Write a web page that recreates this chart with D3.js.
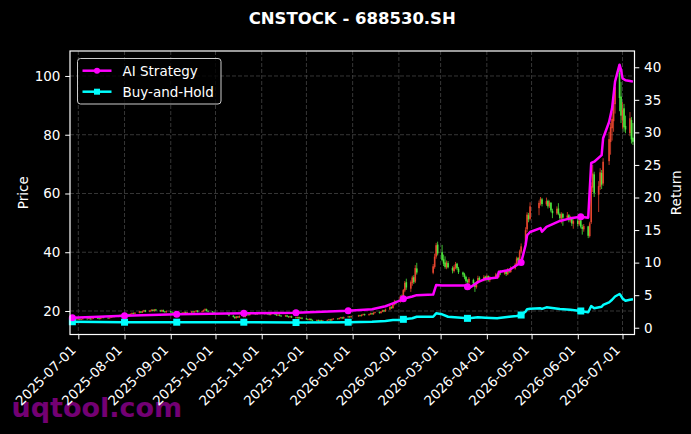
<!DOCTYPE html>
<html>
<head>
<meta charset="utf-8">
<script src="https://cdn.jsdelivr.net/npm/d3@7"></script>
<style>
body { margin: 0; background: #000; }
text { font-family: "DejaVu Sans", sans-serif; }
</style>
</head>
<body>
<div id="chart"></div>
<script>
// trading calendar
var firstDay = "2025-06-27", lastDay = "2026-07-08";
var holidays = ["2025-10-01", "2025-10-02", "2025-10-03", "2025-10-06", "2025-10-07", "2025-10-08",
	"2026-01-01", "2026-01-02", "2026-02-16", "2026-02-17", "2026-02-18", "2026-02-19", "2026-02-20",
	"2026-02-23", "2026-04-06", "2026-05-01", "2026-05-04", "2026-05-05", "2026-06-19"];

// daily candles, one row per month
var opens = [
	17.3, 17.4,
	17.2, 17.3, 17.1, 17.2, 17.4, 17.3, 17.5, 17.2, 17.4, 17.6, 17.5, 17.3, 17.6, 17.8, 17.7, 17.5, 17.7, 17.9, 18.2, 18.0, 18.3, 18.6, 18.4,
	18.7, 18.9, 18.6, 19.0, 19.3, 19.1, 19.4, 19.8, 19.5, 19.9, 20.2, 19.8, 20.1, 20.4, 20.0, 20.5, 20.2, 19.9, 20.3, 19.8, 19.6,
	19.9, 19.6, 19.4, 19.2, 19.5, 19.3, 19.1, 19.4, 19.6, 19.3, 19.5, 19.8, 19.6, 19.9, 20.1, 19.7, 19.9, 20.3, 20.6, 20.0, 19.8, 19.6,
	19.3, 18.9, 18.4, 18.0, 17.6, 18.1, 17.8, 18.3, 18.0, 18.5, 18.8, 18.6, 19.0, 19.2, 18.9, 19.3, 19.5,
	19.2, 19.0, 19.3, 18.9, 18.7, 19.0, 18.8, 18.5, 18.7, 18.4, 18.2, 18.5, 18.1, 17.9, 18.2, 17.8, 17.6, 17.9, 17.5, 17.7,
	17.4, 17.2, 17.0, 17.3, 16.9, 16.7, 16.9, 16.6, 16.8, 16.5, 16.7, 16.9, 17.1, 16.8, 17.2, 17.4, 17.3, 17.6, 17.8, 17.5, 17.9, 18.1, 17.9,
	18.2, 18.5, 18.3, 18.7, 18.9, 18.6, 18.9, 19.2, 18.9, 19.4, 19.6, 19.3, 19.8, 20.2, 19.9, 20.5, 21.3, 21.0, 22.2, 23.1,
	23.2, 25.0, 24.2, 27.0, 29.8, 27.6, 29.5, 31.5, 30.0, 34.5, 33.0, 35.0, 38.5, 42.6,
	40.0, 37.6, 36.5, 34.8, 36.3, 34.6, 33.6, 34.8, 36.1, 34.4, 33.1, 32.5, 31.6, 30.3, 29.7, 30.6, 29.3, 28.1, 29.7, 31.3, 30.4, 31.7,
	30.8, 31.9, 30.5, 31.5, 32.5, 31.6, 33.3, 32.7, 33.6, 32.5, 34.2, 33.3, 34.5, 35.9, 38.0, 37.1, 40.2, 42.5, 47.8, 52.6, 51.4,
	55.0, 56.6, 58.0, 56.3, 57.5, 55.7, 56.8, 54.1, 53.2, 54.9, 53.0, 51.5, 53.0, 51.7, 52.6, 50.8, 51.6, 49.7,
	50.7, 49.5, 50.9, 48.6, 47.8, 48.8, 45.5, 50.2, 62.0, 66.5, 59.6, 62.3, 67.0, 63.4, 71.0, 77.5, 82.2, 84.6, 90.4, 101.0, 93.0,
	85.0, 89.0, 83.0, 80.5, 85.0, 79.0];
var highs = [
	17.6, 17.5,
	17.5, 17.4, 17.3, 17.6, 17.5, 17.7, 17.6, 17.5, 17.8, 17.7, 17.6, 17.8, 18.0, 17.9, 17.8, 17.9, 18.1, 18.4, 18.3, 18.5, 18.8, 18.7, 18.9,
	19.1, 19.1, 19.2, 19.5, 19.5, 19.6, 20.0, 20.0, 20.1, 20.4, 20.4, 20.3, 20.6, 20.6, 20.7, 20.7, 20.4, 20.5, 20.5, 20.0, 20.1,
	20.1, 19.8, 19.6, 19.7, 19.7, 19.5, 19.6, 19.8, 19.8, 19.7, 20.0, 20.0, 20.1, 20.3, 20.3, 20.1, 20.5, 20.9, 20.8, 20.2, 20.0, 19.8,
	19.5, 19.1, 18.6, 18.2, 18.3, 18.3, 18.5, 18.5, 18.7, 19.0, 19.0, 19.2, 19.4, 19.4, 19.5, 19.7, 19.7,
	19.4, 19.5, 19.4, 19.1, 19.2, 19.2, 19.0, 18.9, 18.9, 18.6, 18.7, 18.7, 18.3, 18.4, 18.4, 18.0, 18.1, 18.1, 17.9, 17.9,
	17.6, 17.4, 17.5, 17.5, 17.1, 17.1, 17.1, 17.0, 17.0, 16.9, 17.1, 17.3, 17.3, 17.4, 17.6, 17.6, 17.8, 18.0, 18.0, 18.1, 18.3, 18.3, 18.4,
	18.7, 18.7, 18.9, 19.1, 19.1, 19.1, 19.4, 19.4, 19.6, 19.8, 19.8, 20.0, 20.4, 20.4, 20.8, 21.8, 21.6, 22.6, 23.8, 23.6,
	25.4, 25.6, 27.5, 30.2, 31.0, 30.4, 32.0, 32.2, 35.6, 36.4, 36.0, 39.5, 43.2, 43.6,
	42.5, 39.2, 38.6, 37.2, 37.0, 35.2, 35.6, 36.7, 36.4, 35.0, 33.4, 33.0, 32.0, 30.8, 31.5, 31.0, 29.8, 30.2, 32.0, 31.8, 32.2, 32.0,
	32.4, 32.1, 31.9, 33.0, 32.8, 33.8, 33.9, 34.0, 33.9, 34.6, 34.5, 35.2, 36.4, 38.5, 38.4, 40.9, 43.0, 48.5, 53.6, 53.4, 57.0,
	57.6, 58.8, 58.5, 58.6, 57.9, 57.6, 57.1, 54.8, 55.6, 56.7, 53.5, 53.6, 53.4, 53.7, 53.0, 52.4, 52.0, 51.2,
	51.6, 52.6, 51.3, 49.4, 49.6, 49.0, 50.4, 63.8, 69.7, 67.4, 64.2, 68.6, 68.0, 72.0, 81.0, 84.0, 87.7, 92.0, 97.0, 103.7, 98.0,
	91.0, 90.5, 86.5, 87.7, 86.0, 84.0];
var lows = [
	17.1, 17.0,
	17.0, 16.9, 16.9, 17.1, 17.1, 17.2, 17.0, 17.1, 17.3, 17.3, 17.1, 17.2, 17.5, 17.5, 17.3, 17.4, 17.6, 17.8, 17.8, 17.9, 18.1, 18.2, 18.3,
	18.5, 18.4, 18.4, 18.8, 18.9, 18.9, 19.2, 19.3, 19.3, 19.7, 19.6, 19.6, 19.9, 19.8, 19.8, 20.0, 19.7, 19.7, 19.6, 19.4, 19.4,
	19.4, 19.2, 19.0, 19.0, 19.1, 18.9, 18.9, 19.2, 19.1, 19.1, 19.3, 19.4, 19.4, 19.7, 19.5, 19.5, 19.7, 20.1, 19.8, 19.6, 19.4, 19.2,
	18.7, 18.2, 17.8, 17.3, 17.4, 17.6, 17.6, 17.8, 17.8, 18.3, 18.4, 18.4, 18.8, 18.7, 18.7, 19.1, 19.0,
	18.8, 18.8, 18.7, 18.5, 18.5, 18.6, 18.3, 18.3, 18.2, 18.0, 18.0, 17.9, 17.7, 17.7, 17.6, 17.4, 17.4, 17.3, 17.3, 17.2,
	17.0, 16.8, 16.8, 16.7, 16.5, 16.5, 16.4, 16.4, 16.3, 16.3, 16.5, 16.7, 16.6, 16.6, 17.0, 17.1, 17.1, 17.4, 17.3, 17.3, 17.7, 17.7, 17.7,
	18.0, 18.1, 18.1, 18.5, 18.4, 18.4, 18.7, 18.7, 18.7, 19.2, 19.1, 19.1, 19.6, 19.6, 19.7, 20.3, 20.7, 20.8, 21.9, 22.2,
	22.8, 23.6, 24.0, 26.4, 27.2, 26.5, 28.6, 29.2, 29.5, 32.4, 32.5, 34.4, 37.8, 38.9,
	36.9, 35.3, 34.4, 34.2, 34.5, 32.8, 33.1, 34.2, 33.9, 32.6, 31.6, 30.8, 29.6, 28.8, 29.2, 28.9, 26.5, 27.6, 29.3, 29.9, 30.1, 30.3,
	30.4, 30.0, 29.8, 31.0, 31.1, 31.3, 32.2, 32.3, 31.9, 32.2, 32.9, 33.0, 34.1, 35.4, 36.5, 36.8, 39.5, 42.0, 46.9, 50.2, 50.8,
	52.6, 55.9, 55.6, 55.8, 54.9, 55.1, 53.6, 51.6, 52.7, 52.6, 50.8, 49.8, 49.0, 51.2, 50.2, 50.1, 48.9, 48.0,
	48.8, 49.0, 48.1, 46.0, 47.0, 44.8, 45.0, 49.6, 60.5, 58.8, 53.7, 61.2, 61.5, 62.6, 69.7, 73.2, 78.0, 81.0, 87.2, 88.0, 84.0,
	82.0, 81.0, 80.5, 79.5, 77.0, 76.5];
var closes = [
	17.4, 17.2,
	17.3, 17.1, 17.2, 17.4, 17.3, 17.5, 17.2, 17.4, 17.6, 17.5, 17.3, 17.6, 17.8, 17.7, 17.5, 17.7, 17.9, 18.2, 18.0, 18.3, 18.6, 18.4, 18.7,
	18.9, 18.6, 19.0, 19.3, 19.1, 19.4, 19.8, 19.5, 19.9, 20.2, 19.8, 20.1, 20.4, 20.0, 20.5, 20.2, 19.9, 20.3, 19.8, 19.6, 19.9,
	19.6, 19.4, 19.2, 19.5, 19.3, 19.1, 19.4, 19.6, 19.3, 19.5, 19.8, 19.6, 19.9, 20.1, 19.7, 19.9, 20.3, 20.6, 20.0, 19.8, 19.6, 19.4,
	18.9, 18.4, 18.0, 17.6, 18.1, 17.8, 18.3, 18.0, 18.5, 18.8, 18.6, 19.0, 19.2, 18.9, 19.3, 19.5, 19.2,
	19.0, 19.3, 18.9, 18.7, 19.0, 18.8, 18.5, 18.7, 18.4, 18.2, 18.5, 18.1, 17.9, 18.2, 17.8, 17.6, 17.9, 17.5, 17.7, 17.4,
	17.2, 17.0, 17.3, 16.9, 16.7, 16.9, 16.6, 16.8, 16.5, 16.7, 16.9, 17.1, 16.8, 17.2, 17.4, 17.3, 17.6, 17.8, 17.5, 17.9, 18.1, 17.9, 18.2,
	18.5, 18.3, 18.7, 18.9, 18.6, 18.9, 19.2, 18.9, 19.4, 19.6, 19.3, 19.8, 20.2, 19.9, 20.5, 21.3, 21.0, 22.2, 23.1, 22.6,
	24.9, 24.1, 27.1, 29.6, 28.0, 29.8, 31.4, 29.8, 34.6, 33.1, 35.2, 38.5, 42.4, 39.6,
	37.4, 36.1, 35.0, 36.5, 34.9, 33.8, 34.9, 36.0, 34.5, 33.2, 32.4, 31.5, 30.2, 29.8, 30.9, 29.4, 28.2, 29.6, 31.2, 30.5, 31.6, 30.9,
	31.8, 30.6, 31.4, 32.4, 31.7, 33.2, 32.8, 33.5, 32.6, 34.1, 33.4, 34.6, 35.8, 37.9, 37.2, 40.3, 42.0, 47.5, 52.8, 51.2, 55.6,
	56.8, 58.2, 56.4, 57.4, 55.6, 56.9, 54.2, 53.3, 54.8, 53.1, 51.6, 52.9, 51.8, 52.5, 50.9, 51.7, 49.8, 50.6,
	49.6, 50.8, 48.7, 47.9, 48.9, 45.6, 49.8, 62.5, 66.8, 60.2, 62.5, 67.2, 63.0, 70.8, 78.5, 82.6, 85.4, 90.8, 96.2, 92.5, 86.5,
	88.6, 82.5, 81.8, 85.6, 78.4, 77.6];

// strategy curves (right axis)
var lineDates = ["2025-06-27", "2025-08-01", "2025-09-05", "2025-10-20", "2025-11-24", "2025-12-29",
	"2026-01-14", "2026-01-23", "2026-01-28", "2026-02-02", "2026-02-04", "2026-02-10", "2026-02-13",
	"2026-02-24", "2026-02-26", "2026-03-02", "2026-03-06", "2026-03-17", "2026-03-19", "2026-03-20",
	"2026-03-26", "2026-03-31", "2026-04-08", "2026-04-09", "2026-04-16", "2026-04-21", "2026-04-24",
	"2026-04-27", "2026-04-28", "2026-04-30", "2026-05-07", "2026-05-08", "2026-05-11", "2026-05-20",
	"2026-05-27", "2026-06-03", "2026-06-08", "2026-06-10", "2026-06-12", "2026-06-17", "2026-06-18",
	"2026-06-22", "2026-06-24", "2026-06-26", "2026-06-29", "2026-06-30", "2026-07-01", "2026-07-03",
	"2026-07-06", "2026-07-08"];
var aiValues = [1.54, 1.84, 2.06, 2.21, 2.30, 2.61,
	2.85, 3.30, 3.75, 4.20, 4.45, 4.80, 5.00,
	5.10, 6.56, 6.50, 6.50, 6.50, 6.30, 6.05,
	7.00, 7.50, 7.70, 8.55, 8.86, 9.60, 10.0,
	12.7, 14.2, 14.7, 15.3, 14.75, 15.5, 16.4,
	16.8, 17.05, 16.9, 25.3, 25.5, 26.5, 29.1,
	31.6, 33.7, 37.8, 40.4, 39.6, 38.3, 38.0,
	37.9, 37.8];
var bhValues = [0.92, 0.85, 0.85, 0.85, 0.80, 0.85,
	0.92, 1.05, 1.18, 1.18, 1.29, 1.45, 1.69,
	1.69, 2.21, 2.06, 1.69, 1.50, 1.44, 1.44,
	1.60, 1.55, 1.45, 1.48, 1.69, 1.80, 1.95,
	2.50, 2.83, 2.90, 2.98, 2.90, 3.13, 2.87,
	2.75, 2.57, 2.37, 3.33, 3.00, 3.23, 3.50,
	3.90, 4.30, 4.80, 5.18, 4.90, 4.50, 4.15,
	4.30, 4.36];
var markDates = ["2025-06-27", "2025-08-01", "2025-09-05", "2025-10-20", "2025-11-24", "2025-12-29",
	"2026-02-04", "2026-03-19", "2026-04-24", "2026-06-03"];

var priceTicks = [20, 40, 60, 80, 100];
var returnTicks = [0, 5, 10, 15, 20, 25, 30, 35, 40];
var monthTicks = ["2025-07-01", "2025-08-01", "2025-09-01", "2025-10-01", "2025-11-01", "2025-12-01",
	"2026-01-01", "2026-02-01", "2026-03-01", "2026-04-01", "2026-05-01", "2026-06-01", "2026-07-01"];

function style_axis(g) {
	g.select(".domain").remove();
	g.attr("font-family", "DejaVu Sans").attr("font-size", 13.5);
	g.selectAll(".tick line").attr("stroke", "#fff");
	g.selectAll(".tick text").attr("fill", "#fff");
}

function draw_chart() {

	var margin= {top: 51, right: 56.5, bottom: 99.5, left: 70};
	var width= 691- margin.left- margin.right;
	var height= 434- margin.top- margin.bottom;

	var parse= d3.utcParse("%Y-%m-%d");
	var fmt= d3.utcFormat("%Y-%m-%d");

	var days= d3.utcDay.range(parse(firstDay), d3.utcDay.offset(parse(lastDay), 1))
		.filter(function(d) {
			var w= d.getUTCDay();
			return w> 0 && w< 6 && holidays.indexOf(fmt(d))< 0;
		});

	var candles= [];
	for (var i= 0; i< Math.min(days.length, closes.length); i++) {
		candles.push({date: days[i], o: opens[i], h: highs[i], l: lows[i], c: closes[i]});
	}

	var ai= lineDates.map(function(d, i) { return {date: parse(d), v: aiValues[i]}; });
	var bh= lineDates.map(function(d, i) { return {date: parse(d), v: bhValues[i]}; });

	var x= d3.scaleUtc()
		.domain([new Date(Date.UTC(2025, 5, 25, 10)), new Date(Date.UTC(2026, 6, 9, 1))])
		.range([0, width]);
	var yPrice= d3.scaleLinear().domain([12.0, 108.5]).range([height, 0]);
	var yRet= d3.scaleLinear().domain([-1.04, 42.5]).range([height, 0]);

	var svg= d3.select("#chart")
		.append("svg")
		.attr("width", 691)
		.attr("height", 434)
		.style("background", "#000");

	// watermark sits under the tick labels
	svg.append("text")
		.attr("x", 11.5)
		.attr("y", 417)
		.attr("font-size", 27)
		.attr("font-weight", "bold")
		.attr("fill", "#800080")
		.attr("opacity", 0.9)
		.text("uqtool.com");

	svg.append("text")
		.attr("x", margin.left+ width/ 2)
		.attr("y", 23.5)
		.attr("text-anchor", "middle")
		.attr("font-size", 16.5)
		.attr("font-weight", "bold")
		.attr("fill", "#fff")
		.text("CNSTOCK - 688530.SH");

	var canvas= svg.append("g")
		.attr("transform", "translate(" + margin.left + "," + margin.top + ")");

	// grid
	var months= monthTicks.map(parse);
	canvas.append("g").selectAll("line").data(months).enter().append("line")
		.attr("x1", function(d) { return x(d); })
		.attr("x2", function(d) { return x(d); })
		.attr("y1", 0).attr("y2", height)
		.attr("stroke", "#4d4d4d").attr("stroke-width", 0.7).attr("stroke-dasharray", "4,2");
	canvas.append("g").selectAll("line").data(priceTicks).enter().append("line")
		.attr("x1", 0).attr("x2", width)
		.attr("y1", function(d) { return yPrice(d); })
		.attr("y2", function(d) { return yPrice(d); })
		.attr("stroke", "#4d4d4d").attr("stroke-width", 0.7).attr("stroke-dasharray", "4,2");

	// candles: red up, green down
	var upColor= "#ff4d33", downColor= "#55ff44";
	var candle= canvas.append("g").selectAll("g").data(candles).enter().append("g")
		.attr("opacity", 0.9);
	candle.append("line")
		.attr("x1", function(d) { return x(d.date); })
		.attr("x2", function(d) { return x(d.date); })
		.attr("y1", function(d) { return yPrice(d.h); })
		.attr("y2", function(d) { return yPrice(d.l); })
		.attr("stroke", function(d) { return d.c>= d.o ? upColor : downColor; })
		.attr("stroke-width", 0.8);
	candle.append("rect")
		.attr("x", function(d) { return x(d.date)- 0.8; })
		.attr("width", 1.6)
		.attr("y", function(d) { return yPrice(Math.max(d.o, d.c)); })
		.attr("height", function(d) { return Math.max(0.6, Math.abs(yPrice(d.o)- yPrice(d.c))); })
		.attr("fill", function(d) { return d.c>= d.o ? upColor : downColor; });

	var line= d3.line()
		.x(function(d) { return x(d.date); })
		.y(function(d) { return yRet(d.v); });

	var series= [
		{data: bh, color: "#00ffff", shape: "square"},
		{data: ai, color: "#ff00ff", shape: "circle"}
	];

	series.forEach(function(s) {
		canvas.append("path")
			.datum(s.data)
			.attr("d", line)
			.attr("fill", "none")
			.attr("stroke", s.color)
			.attr("stroke-width", 2.5)
			.attr("stroke-linejoin", "round");

		var marks= s.data.filter(function(d) { return markDates.indexOf(fmt(d.date))>= 0; });
		if (s.shape== "circle") {
			canvas.append("g").selectAll("circle").data(marks).enter().append("circle")
				.attr("cx", function(d) { return x(d.date); })
				.attr("cy", function(d) { return yRet(d.v); })
				.attr("r", 3.5)
				.attr("fill", s.color);
		} else {
			canvas.append("g").selectAll("rect").data(marks).enter().append("rect")
				.attr("x", function(d) { return x(d.date)- 3.5; })
				.attr("y", function(d) { return yRet(d.v)- 3.5; })
				.attr("width", 7).attr("height", 7)
				.attr("fill", s.color);
		}
	});

	// axes
	var xAxis= canvas.append("g")
		.attr("transform", "translate(0," + height + ")")
		.call(d3.axisBottom(x).tickValues(months).tickFormat(fmt).tickSize(4.8).tickPadding(4.8));
	style_axis(xAxis);
	xAxis.selectAll(".tick text")
		.attr("y", null)
		.attr("dy", null)
		.attr("text-anchor", "end")
		.attr("transform", "translate(-2,16.5) rotate(-45)");

	var leftAxis= canvas.append("g")
		.call(d3.axisLeft(yPrice).tickValues(priceTicks).tickSize(4.8).tickPadding(4.8));
	style_axis(leftAxis);

	var rightAxis= canvas.append("g")
		.attr("transform", "translate(" + width + ",0)")
		.call(d3.axisRight(yRet).tickValues(returnTicks).tickSize(4.8).tickPadding(4.8));
	style_axis(rightAxis);

	canvas.append("rect")
		.attr("width", width)
		.attr("height", height)
		.attr("fill", "none")
		.attr("stroke", "#fff")
		.attr("stroke-width", 1.2);

	svg.append("text")
		.attr("transform", "translate(27.5," + (margin.top+ height/ 2) + ") rotate(-90)")
		.attr("text-anchor", "middle")
		.attr("font-size", 13.5)
		.attr("fill", "#fff")
		.text("Price");

	svg.append("text")
		.attr("transform", "translate(680.5," + (margin.top+ height/ 2) + ") rotate(-90)")
		.attr("text-anchor", "middle")
		.attr("font-size", 13.5)
		.attr("fill", "#fff")
		.text("Return");

	// legend
	var legend= svg.append("g").attr("transform", "translate(77.5,58.5)");
	legend.append("rect")
		.attr("width", 143.5)
		.attr("height", 45.5)
		.attr("rx", 3)
		.attr("fill", "#000")
		.attr("fill-opacity", 0.8)
		.attr("stroke", "#cccccc")
		.attr("stroke-width", 1);

	var items= [
		{label: "AI Strategy", color: "#ff00ff", shape: "circle"},
		{label: "Buy-and-Hold", color: "#00ffff", shape: "square"}
	];
	items.forEach(function(it, k) {
		var ly= 12.2+ k* 21;
		legend.append("line")
			.attr("x1", 5).attr("x2", 34)
			.attr("y1", ly).attr("y2", ly)
			.attr("stroke", it.color)
			.attr("stroke-width", 2.5);
		if (it.shape== "circle") {
			legend.append("circle").attr("cx", 19.5).attr("cy", ly).attr("r", 3).attr("fill", it.color);
		} else {
			legend.append("rect").attr("x", 16.5).attr("y", ly- 3).attr("width", 6).attr("height", 6).attr("fill", it.color);
		}
		legend.append("text")
			.attr("x", 45)
			.attr("y", ly)
			.attr("dy", "0.36em")
			.attr("font-size", 13.5)
			.attr("fill", "#fff")
			.text(it.label);
	});
};

draw_chart();
</script>
</body>
</html>
